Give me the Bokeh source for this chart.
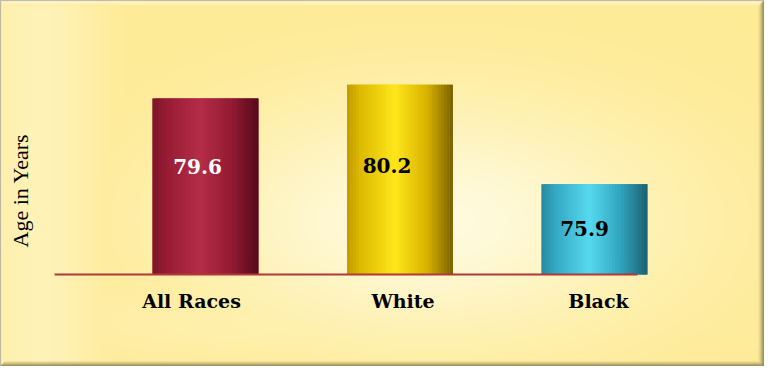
import numpy as np
from bokeh.plotting import figure
from bokeh.models import ColumnDataSource, Range1d
from bokeh.core.properties import value
from bokeh.embed import file_html
from bokeh.resources import INLINE

# ---- data ----
categories = ["All Races", "White", "Black"]
values = [79.6, 80.2, 75.9]
value_labels = ["79.6", "80.2", "75.9"]
axis_title = "Age in Years"
base = 72.0

# ---- styling ----
W, H = 764, 366
PX_X = 194.5          # pixels per category step
PX_Y = 23.15          # pixels per year
xs = -205.0 / PX_X
xe = xs + W / PX_X
ye = base + 274.0 / PX_Y
ys = ye - H / PX_Y

def fx(px):
    return xs + px / PX_X

def fy(py):
    return ye - py / PX_Y

bar_w = 106.0 / PX_X
label_colors = ["white", "black", "black"]
label_dx = [-8, -13, -10]
label_dy = [-20, -14, -1]
cat_dx = [-14, 3, 4]

stops = [
    [(0.0, "#7c1529"), (0.12, "#951b33"), (0.45, "#b52d48"), (0.75, "#911a31"), (1.0, "#550b1a")],
    [(0.0, "#c29c00"), (0.12, "#dcb800"), (0.45, "#ffe71c"), (0.75, "#d9b300"), (1.0, "#7a6200")],
    [(0.0, "#27889e"), (0.12, "#33a7c1"), (0.45, "#56d9f0"), (0.75, "#30a3bd"), (1.0, "#1c6071")],
]

def hex2rgb(h):
    h = h.lstrip("#")
    return np.array([int(h[i:i + 2], 16) for i in (0, 2, 4)], dtype=float)

def interp(st, t):
    for (t0, c0), (t1, c1) in zip(st[:-1], st[1:]):
        if t0 <= t <= t1:
            a = (t - t0) / (t1 - t0)
            c = hex2rgb(c0) * (1 - a) + hex2rgb(c1) * a
            return "#%02x%02x%02x" % tuple(int(round(v)) for v in c)
    return st[-1][1]

p = figure(width=W, height=H, x_range=Range1d(xs, xe), y_range=Range1d(ys, ye),
           output_backend="svg", toolbar_location=None, min_border=0,
           x_axis_location=None, y_axis_location=None)
p.grid.visible = False
p.title.visible = False
p.outline_line_color = "#a9a58f"
p.outline_line_width = 1
p.background_fill_color = "#fdeb98"
p.border_fill_color = "#fdeb98"

# ---- background gradient ----
gx, gy = np.meshgrid(np.arange(W), np.arange(H))
yel = np.array([254, 235, 150], dtype=float)
cream = np.array([255, 251, 224], dtype=float)
w1 = 0.97 * np.exp(-(((gx - 430) / 240.0) ** 2 + ((gy - 220) / 120.0) ** 2))
w2 = 0.45 * np.exp(-(((gx - 40) / 60.0) ** 2))
w3 = 0.35 * np.exp(-(((gy - 320) / 45.0) ** 2)) * np.exp(-(((gx - 350) / 350.0) ** 2))
wt = np.clip(np.maximum(np.maximum(w1, w2), w3), 0, 1)[..., None]
rgb = yel * (1 - wt) + cream * wt
rgb = rgb[::-1]  # image rows go bottom-up
img = np.empty((H, W), dtype=np.uint32)
view = img.view(dtype=np.uint8).reshape((H, W, 4))
view[..., 0] = rgb[..., 0].astype(np.uint8)
view[..., 1] = rgb[..., 1].astype(np.uint8)
view[..., 2] = rgb[..., 2].astype(np.uint8)
view[..., 3] = 255
p.image_rgba(image=[img], x=xs, y=ys, dw=xe - xs, dh=ye - ys)

# ---- bevel frame ----
bev = dict(l=[], r=[], t=[], b=[], c=[])
def band(l, r, t, b, c):
    bev["l"].append(l); bev["r"].append(r); bev["t"].append(t); bev["b"].append(b); bev["c"].append(c)

top_cols = ["#d8d4c0", "#fff9dc", "#fff6cc", "#fff2bc", "#fdeeac", "#fdeba0"]
for i, c in enumerate(top_cols):
    band(fx(i), fx(W - i), fy(i), fy(i + 1), c)
left_cols = ["#c8c4b0", "#fff6cc", "#fff2bc", "#fdeea8"]
for i, c in enumerate(left_cols):
    band(fx(i), fx(i + 1), fy(i), fy(H - i), c)
right_cols = ["#6e6644", "#857a50", "#a0935e", "#bcae6e", "#d8c880", "#ecdc90"]
for i, c in enumerate(right_cols):
    band(fx(W - i - 1), fx(W - i), fy(i), fy(H - i), c)
bottom_cols = ["#6e6644", "#8a7e52", "#a89a60", "#c6b672", "#e0d088"]
for i, c in enumerate(bottom_cols):
    band(fx(i), fx(W - i), fy(H - i - 1), fy(H - i), c)
p.quad(left="l", right="r", top="t", bottom="b", fill_color="c", line_color=None,
       source=ColumnDataSource(bev))

xpos = list(range(len(categories)))

# ---- solid bar underlay ----
p.vbar(x=xpos, top=values, bottom=base, width=bar_w,
       fill_color=[interp(s, 0.6) for s in stops], line_color=None)

# ---- cylindrical shading (overlapping strips) ----
N = 36
L, R, T, C = [], [], [], []
for i, (xc, v) in enumerate(zip(xpos, values)):
    x_left = xc - bar_w / 2
    step = bar_w / N
    for k in range(N):
        t = (k + 0.5) / N
        L.append(x_left + k * step)
        R.append(min(x_left + (k + 1.8) * step, xc + bar_w / 2))
        T.append(v)
        C.append(interp(stops[i], t))
p.quad(left="l", right="r", top="t", bottom=base, fill_color="c", line_color=None,
       source=ColumnDataSource(dict(l=L, r=R, t=T, c=C)))

# ---- baseline (drawn over the bars) ----
p.segment(x0=[xpos[0] - 0.776], y0=[base], x1=[xpos[-1] + 0.221], y1=[base],
          line_color="#b03838", line_width=2)

# ---- value labels ----
lab = ColumnDataSource(dict(
    x=xpos, y=[(base + v) / 2 for v in values], text=value_labels,
    c=label_colors, dx=label_dx, dy=label_dy))
p.text(x="x", y="y", text="text", text_color="c", x_offset="dx", y_offset="dy",
       text_align="center", text_baseline="middle", text_font=value("DejaVu Serif"),
       text_font_style="bold", text_font_size="20px", source=lab)

# ---- category labels ----
cat = ColumnDataSource(dict(x=xpos, y=[base] * len(categories), text=categories, dx=cat_dx))
p.text(x="x", y="y", text="text", x_offset="dx", y_offset=26, text_color="black",
       text_align="center", text_baseline="middle", text_font=value("DejaVu Serif"),
       text_font_style="bold", text_font_size="19px", source=cat)

# ---- y axis title ----
p.text(x=[fx(20)], y=[fy(190)], text=[axis_title], angle=np.pi / 2, text_color="black",
       text_align="center", text_baseline="middle", text_font=value("Liberation Serif"),
       text_font_size="22px")

open("out.html", "w").write(file_html(p, INLINE))
